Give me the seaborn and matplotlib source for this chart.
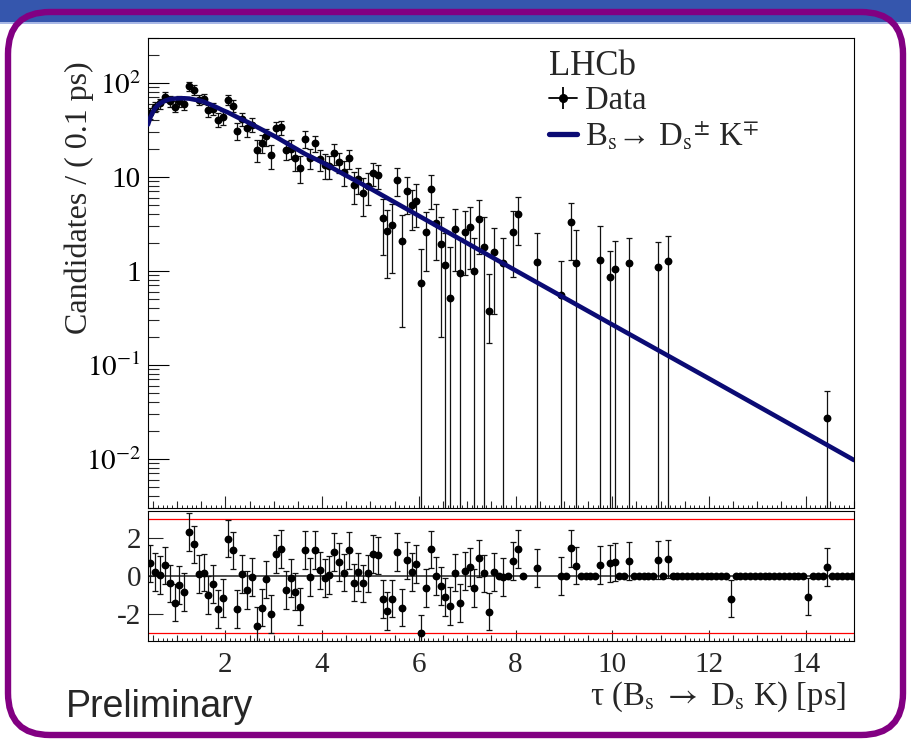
import numpy as np
import matplotlib
matplotlib.use("Agg")
import matplotlib.pyplot as plt
import seaborn as sns
import matplotlib.ticker as mticker
from matplotlib.patches import FancyBboxPatch, Rectangle
from matplotlib.lines import Line2D
from matplotlib.legend_handler import HandlerTuple
from matplotlib.transforms import IdentityTransform

# ---------------- data ----------------
tau_bins = [0.45, 0.55, 0.65, 0.75, 0.85, 0.95, 1.05, 1.15, 1.25, 1.35,
            1.45, 1.55, 1.65, 1.75, 1.85, 1.95, 2.05, 2.15, 2.25, 2.35,
            2.45, 2.55, 2.65, 2.75, 2.85, 2.95, 3.05, 3.15, 3.25, 3.35,
            3.45, 3.55, 3.65, 3.75, 3.85, 3.95, 4.05, 4.15, 4.25, 4.35,
            4.45, 4.55, 4.65, 4.75, 4.85, 4.95, 5.05, 5.15, 5.25, 5.35,
            5.45, 5.55, 5.65, 5.75, 5.85, 5.95, 6.05, 6.15, 6.25, 6.35,
            6.45, 6.55, 6.65, 6.75, 6.85, 6.95, 7.05, 7.15, 7.25, 7.35,
            7.45, 7.55, 7.75, 7.95, 8.05, 8.45, 8.95, 9.15, 9.25, 9.75,
            9.95, 10.05, 10.35, 10.95, 11.15, 14.45]
counts = [47.5, 56, 60.5, 71, 64, 56, 64, 60, 92, 84,
          66, 68, 51, 53, 40.5, 43, 66, 57, 31, 41,
          33, 36, 19.5, 23, 27, 17, 33, 33.5, 19.5, 20,
          16, 12.5, 25.5, 16, 23, 15.5, 13.4, 13, 18, 14.5,
          11.4, 15.7, 8.2, 9.5, 6.8, 8, 11, 10.5, 3.65, 2.63,
          3.05, 9.3, 2.1, 7, 5, 5.6, 0.74, 2.6, 7.5, 3.2,
          1.95, 1.15, 0.52, 2.8, 0.95, 2.6, 2.9, 1.0, 3.6, 1.8,
          0.37, 1.6, 1.2, 2.6, 4.0, 1.25, 0.56, 3.3, 1.22, 1.3,
          0.86, 1.05, 1.2, 1.1, 1.27, 0.027]
err_lo = [6.5, 7, 7.5, 8, 8, 7.5, 8, 8, 10, 10,
          8.5, 8.5, 7.5, 7.5, 7, 7, 8.5, 8, 6.5, 6.5,
          6.5, 6, 5, 5, 5.5, 5, 5.5, 5.5, 4.5, 4.5,
          4.5, 4, 5, 4, 4.5, 4, 4, 3.5, 4.5, 3.5,
          3.5, 3.5, 3, 3, 3, 3, 3, 3, 2.17, 1.8,
          2.1, 3.1, 1.85, 3, 2.3, 2.7, 0.97, 1.6, 3, 1.9,
          1.75, 1.35, 1.26, 1.8, 1.3, 1.7, 1.85, 1.25, 2.1, 1.9,
          0.2, 1.25, 1.2, 1.75, 2.1, 1.25, 0.56, 2.0, 1.22, 1.3,
          0.86, 1.05, 1.2, 1.1, 1.27, 0.027]
err_hi = [6.5, 7, 7.5, 8, 8, 7.5, 8, 8, 10, 10,
          8.5, 8.5, 7.5, 7.5, 7, 7, 8.5, 8, 6.5, 6.5,
          6.5, 6, 5, 5, 5.5, 5, 5.5, 5.5, 4.5, 4.5,
          4.5, 4, 5, 4, 4.5, 4, 4, 3.5, 4.5, 3.5,
          3.5, 3.5, 3, 3, 3, 3, 3, 3, 2.17, 1.8,
          2.1, 3.1, 1.85, 3, 2.3, 2.7, 0.97, 1.6, 3, 1.9,
          1.75, 1.35, 1.26, 1.8, 1.3, 1.7, 1.85, 1.25, 2.1, 1.9,
          0.55, 1.25, 1.05, 1.75, 2.1, 1.25, 0.7, 2.0, 1.5, 1.67,
          0.76, 1.05, 1.05, 0.94, 1.08, 0.026]

curve_tau = [0.40, 0.45, 0.50, 0.55, 0.60, 0.65, 0.75, 0.85, 0.95, 1.05,
             1.15, 1.25, 1.35, 1.45, 1.55, 1.65, 1.75, 1.85, 1.95, 2.05,
             2.25, 2.45, 2.65, 2.85, 3.05, 3.35, 3.65, 4.0, 4.5, 5.0,
             6.0, 7.0, 8.0, 10.0, 12.0, 15.0]
curve_val = [36, 43, 49, 54, 57.5, 60.5, 64.5, 67, 68, 68.5,
             68.5, 68, 66.5, 65, 63, 60, 57, 54, 51, 48.5,
             43, 38.5, 34, 30, 26.5, 21.5, 17.5, 14.3, 10.3, 7.5,
             3.85, 1.97, 1.01, 0.268, 0.0715, 0.0097]

pull_tau = [0.45, 0.55, 0.65, 0.75, 0.85, 0.95, 1.05, 1.15, 1.25, 1.35,
            1.45, 1.55, 1.65, 1.75, 1.85, 1.95, 2.05, 2.15, 2.25, 2.35,
            2.45, 2.55, 2.65, 2.75, 2.85, 2.95, 3.05, 3.15, 3.25, 3.35,
            3.45, 3.55, 3.65, 3.75, 3.85, 3.95, 4.05, 4.15, 4.25, 4.35,
            4.45, 4.55, 4.65, 4.75, 4.85, 4.95, 5.05, 5.15, 5.25, 5.35,
            5.45, 5.55, 5.65, 5.75, 5.85, 5.95, 6.05, 6.15, 6.25, 6.35,
            6.45, 6.55, 6.65, 6.75, 6.85, 6.95, 7.05, 7.15, 7.25, 7.35,
            7.45, 7.55, 7.75, 7.95, 8.05, 8.45, 8.95, 9.15, 9.25, 9.75,
            9.95, 10.05, 10.35, 10.95, 11.15, 12.45, 14.05, 14.45]
pull_val = [0.67, 0.23, 0.04, 0.56, -0.39, -1.41, -0.49, -0.85, 2.35, 1.68,
            0.12, 0.18, -1.0, -0.41, -1.76, -1.15, 1.99, 1.36, -1.76, 0.12,
            -0.74, -0.05, -2.65, -1.68, -0.18, -2.03, 1.15, 1.45, -0.74, -0.12,
            -0.83, -1.62, 1.38, -0.04, 1.38, 0.30, -0.09, 0.05, 1.27, 0.76,
            0.18, 1.36, -0.35, 0.21, -0.39, 0.14, 1.15, 1.09, -1.23, -1.85,
            -1.2, 1.29, -1.68, 0.83, 0.21, 0.62, -3.05, -0.62, 1.41, 0.0,
            -0.53, -1.11, -1.59, 0.18, -1.45, 0.26, 0.48, -0.65, 0.93, 0.14,
            -1.89, 0.21, -0.05, 0.79, 1.44, 0.41, 0.0, 1.46, 0.55, 0.58,
            0.67, 0.76, 0.79, 0.85, 0.9, -1.2, -1.09, 0.49]
pull_err = [1.0] * 88

zero_tau = [7.65, 7.85, 8.15, 9.05, 9.35, 9.45, 9.55, 9.65, 10.15, 10.25,
            10.45, 10.55, 10.65, 10.75, 10.85, 11.05,
            11.25, 11.35, 11.45, 11.55, 11.65, 11.75, 11.85, 11.95, 12.05,
            12.15, 12.25, 12.35,
            12.55, 12.65, 12.75, 12.85, 12.95, 13.05, 13.15, 13.25, 13.35,
            13.45, 13.55, 13.65, 13.75, 13.85, 13.95,
            14.15, 14.25, 14.35, 14.55, 14.65, 14.75, 14.85, 14.95]
zero_val = [0.0] * 51

ytick_vals = [0.01, 0.1, 1, 10, 100]
ytick_labels = [r"$10^{-2}$", r"$10^{-1}$", "1", "10", r"$10^{2}$"]
pull_ticks = [-2, 0, 2]
pull_labels = ["-2", "0", "2"]

# ---------------- style ----------------
sns.set_theme(style="ticks")
plt.rcParams["font.family"] = ["Liberation Serif", "DejaVu Serif"]
plt.rcParams["mathtext.fontset"] = "stix"
plt.rcParams["axes.linewidth"] = 0.8
plt.rcParams["axes.edgecolor"] = "black"

W, H = 911, 740
fig = plt.figure(figsize=(W / 100, H / 100), dpi=100)
fig.patch.set_facecolor("white")

# slide decorations
fig.add_artist(Rectangle((0, H - 22), W, 22, transform=IdentityTransform(),
                         facecolor="#3556ad", edgecolor="none", zorder=0))
fig.add_artist(Rectangle((0, H - 24), W, 2, transform=IdentityTransform(),
                         facecolor="#a9b8e6", edgecolor="none", zorder=0))
fig.add_artist(FancyBboxPatch((8, H - 735), 895, 723,
                              boxstyle="round,pad=0,rounding_size=42",
                              transform=IdentityTransform(), fill=False,
                              edgecolor="#820082", linewidth=4.6, zorder=1))

L, R = 148, 854
ax = fig.add_axes([L / W, 1 - 508 / H, (R - L) / W, (508 - 38) / H])
ax2 = fig.add_axes([L / W, 1 - 641 / H, (R - L) / W, (641 - 511) / H])

navy = "#0b0b74"

# ---------------- top panel ----------------
ax.set_yscale("log")
ax.set_xlim(0.4, 15)
ax.set_ylim(0.003, 300)
ax.errorbar(tau_bins, counts, yerr=[err_lo, err_hi], fmt="none",
            ecolor="#111111", elinewidth=0.9, capsize=2.0, capthick=0.9, zorder=2)
sns.scatterplot(x=tau_bins, y=counts, ax=ax, color="black", s=32,
                linewidth=0, zorder=3, legend=False)
sns.lineplot(x=curve_tau, y=curve_val, ax=ax, color=navy, linewidth=3.3,
             zorder=4, legend=False)

ax.yaxis.set_major_locator(mticker.FixedLocator(ytick_vals))
ax.yaxis.set_major_formatter(mticker.FixedFormatter(ytick_labels))
ax.yaxis.set_minor_locator(mticker.LogLocator(base=10, subs=range(2, 10), numticks=20))
ax.yaxis.set_minor_formatter(mticker.NullFormatter())
ax.xaxis.set_major_locator(mticker.MultipleLocator(2))
ax.xaxis.set_minor_locator(mticker.MultipleLocator(0.5))
ax.tick_params(axis="y", which="major", direction="in", length=15, width=0.8,
               left=True, right=False, labelsize=21, pad=5, colors="black")
ax.tick_params(axis="y", which="minor", direction="in", length=8, width=0.8,
               left=True, right=False)
ax.tick_params(axis="x", which="major", direction="in", length=9, width=0.8,
               bottom=True, top=False, labelbottom=False)
ax.tick_params(axis="x", which="minor", direction="in", length=5, width=0.8,
               bottom=True, top=False)
sec = ax.secondary_xaxis("bottom")
sec.set_xticks([0.4 + 0.1 * i for i in range(147)])
sec.tick_params(direction="in", length=2.2, width=0.7, labelbottom=False)
sec.spines["bottom"].set_visible(False)

ax.set_xlabel("")
ax.set_ylabel("")
fig.text(79 / W, 1 - 198 / H, "Candidates / ( 0.1 ps)", rotation=90,
         ha="center", va="center", fontsize=23)

data_h = (Line2D([0], [0], color="black", lw=1.3, marker="o", ms=5.5),
          Line2D([0], [0], color="black", lw=0, marker="|", ms=16, mew=1.3))
curve_h = Line2D([0], [0], color=navy, lw=3.8)
leg = ax.legend(handles=[data_h, curve_h],
                labels=["Data", r"B$_{\mathrm{s}}$→ D$_{\mathrm{s}}$$^{\pm}$ K$^{\mp}$"],
                title="LHCb", loc="upper left",
                bbox_to_anchor=(549 / W, 1 - 50 / H), bbox_transform=fig.transFigure,
                frameon=False, fontsize=23.5, title_fontsize=25,
                handlelength=0.85, handletextpad=0.25, labelspacing=0.12,
                borderpad=0, borderaxespad=0, alignment="left",
                handler_map={tuple: HandlerTuple(ndivide=1)})
leg._legend_box.sep = 2

# ---------------- pull panel ----------------
ax2.set_xlim(0.4, 15)
ax2.set_ylim(-3.45, 3.45)
ax2.axhline(0, color="#222222", lw=1.1, zorder=1)
ax2.axhline(3, color="red", lw=0.9, zorder=1)
ax2.axhline(-3, color="red", lw=0.9, zorder=1)
ax2.errorbar(pull_tau, pull_val, yerr=pull_err, fmt="none", ecolor="#111111",
             elinewidth=0.9, capsize=2.0, capthick=0.9, zorder=2)
sns.scatterplot(x=pull_tau, y=pull_val, ax=ax2, color="black", s=32,
                linewidth=0, zorder=3, legend=False)
sns.scatterplot(x=zero_tau, y=zero_val, ax=ax2, color="black", s=32,
                linewidth=0, zorder=3, legend=False)
ax2.set_yticks(pull_ticks)
ax2.set_yticklabels(pull_labels)
ax2.xaxis.set_major_locator(mticker.MultipleLocator(2))
ax2.xaxis.set_minor_locator(mticker.MultipleLocator(0.5))
ax2.tick_params(axis="y", which="major", direction="in", length=11, width=0.8,
                left=True, right=False, labelsize=21, pad=5)
ax2.tick_params(axis="x", which="major", direction="in", length=8, width=0.8,
                bottom=True, top=False, labelsize=21, pad=8)
ax2.tick_params(axis="x", which="minor", direction="in", length=4.5, width=0.8,
                bottom=True, top=False)
sec2 = ax2.secondary_xaxis("bottom")
sec2.set_xticks([0.4 + 0.1 * i for i in range(147)])
sec2.tick_params(direction="in", length=2.0, width=0.7, labelbottom=False)
sec2.spines["bottom"].set_visible(False)
ax2.set_xlabel("")
ax2.set_ylabel("")

fig.text(846 / W, 1 - 697 / H,
         r"τ (B$_{\mathrm{s}}$ $\rightarrow$ D$_{\mathrm{s}}$ K) [ps]",
         ha="right", va="center", fontsize=23.5)
fig.text(66 / W, 1 - 717 / H, "Preliminary", ha="left", va="baseline",
         fontsize=27, family=["Liberation Sans", "DejaVu Sans"])

for a in (ax, ax2):
    a.set_facecolor("white")
    for s in a.spines.values():
        s.set_color("black")
        s.set_linewidth(0.8)

fig.savefig("out.png", dpi=100)
